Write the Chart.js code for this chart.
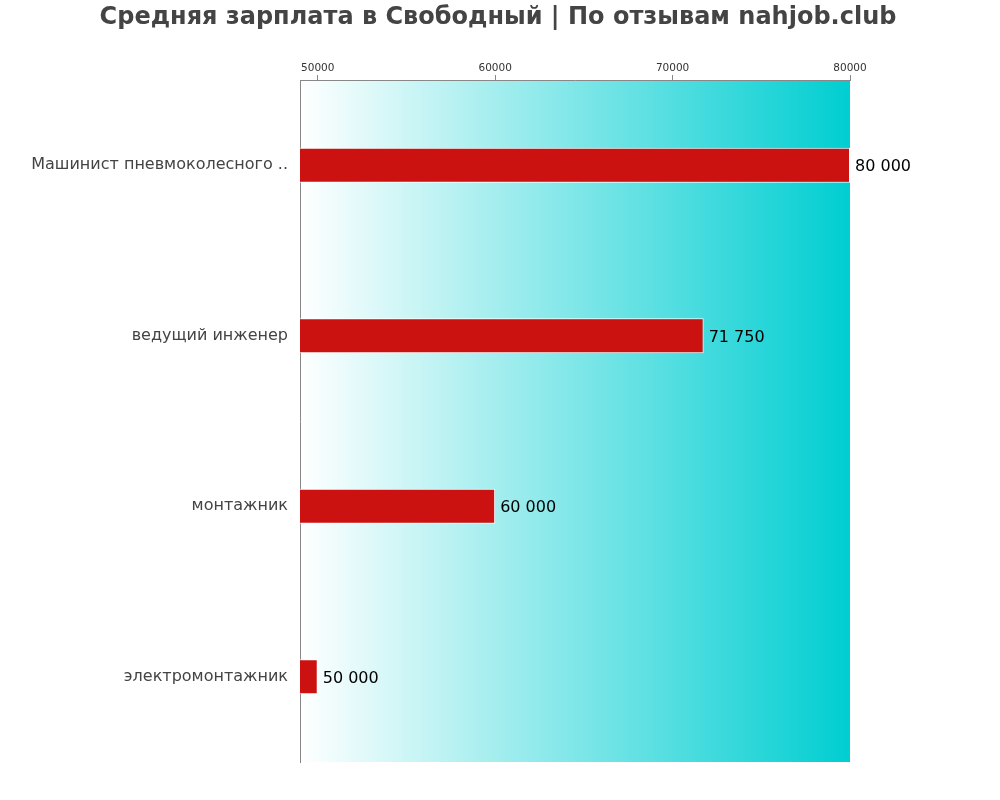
<!DOCTYPE html>
<html>
<head>
<meta charset="utf-8">
<script src="https://cdn.jsdelivr.net/npm/chart.js@4/dist/chart.umd.min.js"></script>
<style>
  html, body { margin: 0; padding: 0; background: #fff; }
  #wrap { width: 1000px; height: 800px; }
</style>
</head>
<body>
<div id="wrap"><canvas id="chart" width="1000" height="800"></canvas></div>
<script>
const chartTitle = 'Средняя зарплата в Свободный | По отзывам nahjob.club';
const professions = [
  'Машинист пневмоколесного ..',
  'ведущий инженер',
  'монтажник',
  'электромонтажник',
];
const salaries = [80000, 71750, 60000, 50000];
const xTicks = [50000, 60000, 70000, 80000];
const xMin = 49000;
const xMax = 80000;

const fmt = (v) => String(v).replace(/\B(?=(\d{3})+(?!\d))/g, ' ');

// gradient behind the bars
const bgPlugin = {
  id: 'bg',
  beforeDraw(chart) {
    const { ctx, chartArea: a } = chart;
    const g = ctx.createLinearGradient(a.left, 0, a.right, 0);
    g.addColorStop(0, '#ffffff');
    g.addColorStop(1, '#00ced1');
    ctx.save();
    ctx.fillStyle = g;
    ctx.fillRect(a.left, a.top, a.right - a.left, a.bottom - a.top);
    ctx.restore();
  },
};

const titlePlugin = {
  id: 'myTitle',
  afterDraw(chart) {
    const ctx = chart.ctx;
    ctx.save();
    ctx.font = 'bold 24px "DejaVu Sans"';
    ctx.fillStyle = '#444444';
    ctx.textAlign = 'center';
    ctx.textBaseline = 'middle';
    ctx.fillText(chartTitle, 498, 18);
    ctx.restore();
  },
};

const valueLabels = {
  id: 'valueLabels',
  afterDatasetsDraw(chart) {
    const ctx = chart.ctx;
    const meta = chart.getDatasetMeta(0);
    ctx.save();
    ctx.font = '16px "DejaVu Sans"';
    ctx.fillStyle = '#000';
    ctx.textBaseline = 'middle';
    meta.data.forEach((bar, i) => {
      ctx.fillText(fmt(salaries[i]), bar.x + 5, bar.y + 2);
    });
    ctx.restore();
  },
};

new Chart(document.getElementById('chart'), {
  type: 'bar',
  data: {
    labels: professions,
    datasets: [{
      data: salaries,
      backgroundColor: '#cc1111',
      borderColor: '#ffffff',
      borderWidth: 1,
      barPercentage: 0.205,
      categoryPercentage: 1,
    }],
  },
  options: {
    indexAxis: 'y',
    responsive: false,
    animation: false,
    layout: { padding: { top: 50, right: 150, bottom: 38, left: 0 } },
    plugins: {
      legend: { display: false },
      title: { display: false },
      tooltip: { enabled: false },
    },
    scales: {
      x: {
        position: 'top',
        min: xMin,
        max: xMax,
        afterBuildTicks(scale) {
          scale.ticks = xTicks.map((v) => ({ value: v }));
        },
        afterFit(scale) { scale.height = 30; },
        grid: { drawOnChartArea: false, tickLength: 5, color: '#888' },
        border: { display: true, color: '#888' },
        ticks: {
          font: { family: 'DejaVu Sans', size: 10.5 },
          color: '#333',
          padding: 0,
          maxRotation: 0,
          callback: (v) => String(v),
        },
      },
      y: {
        afterFit(scale) { scale.width = 300; },
        grid: { display: false, drawTicks: false },
        border: { display: true, color: '#888' },
        ticks: {
          font: { family: 'DejaVu Sans', size: 16 },
          color: '#444',
          padding: 12,
        },
      },
    },
  },
  plugins: [bgPlugin, titlePlugin, valueLabels],
});
</script>
</body>
</html>
